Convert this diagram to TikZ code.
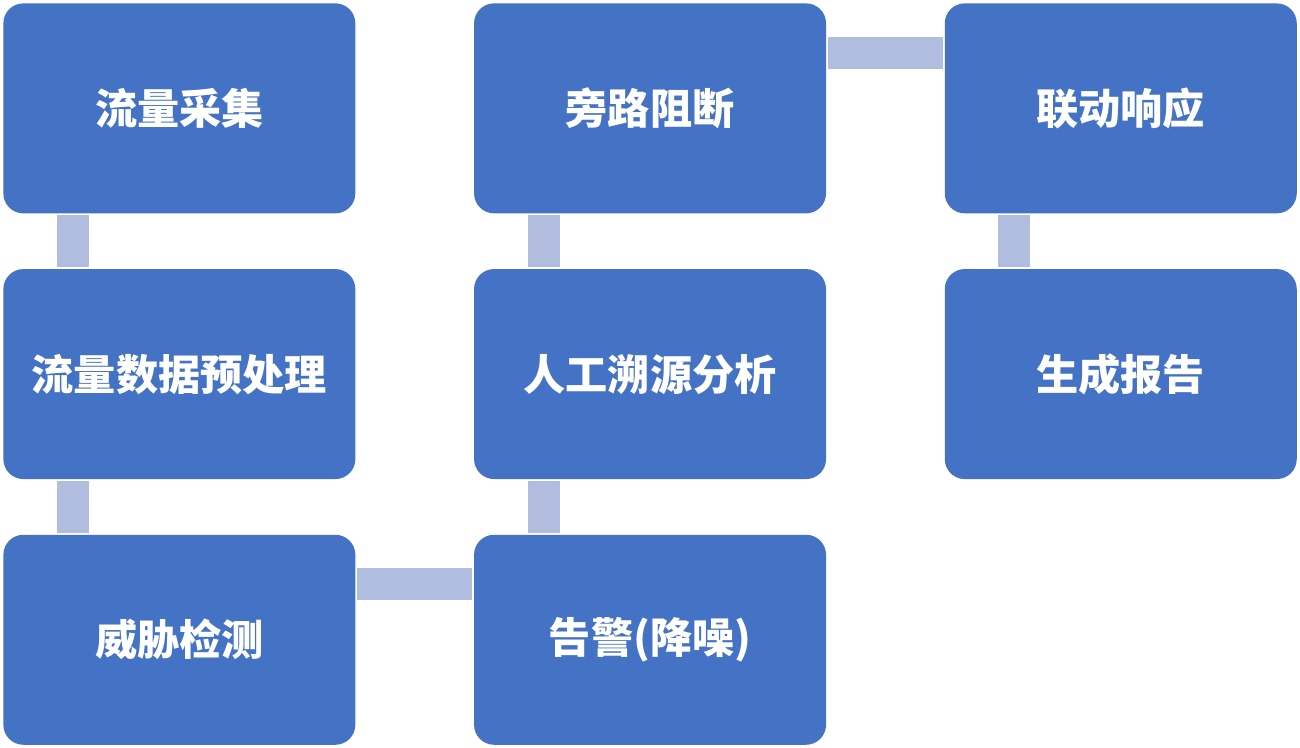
\documentclass[tikz,border=0pt]{standalone}
\usepackage{fontspec}
\newfontfamily\cjk{Noto Sans CJK SC}
\usepackage{tikz}
\usetikzlibrary{positioning}

\definecolor{boxblue}{HTML}{4472C4}
\definecolor{linkblue}{HTML}{B0BDDE}

\tikzset{
  stepbox/.style={fill=boxblue, draw=none, rounded corners=0.4cm, minimum width=7.04cm, minimum height=4.2cm, inner sep=0pt, text=white, font=\cjk\bfseries\fontsize{24pt}{28pt}\selectfont},
  link/.style={draw=linkblue, line width=0.64cm, shorten <=0.03cm, shorten >=0.03cm}
}

\begin{document}
\begin{tikzpicture}
\useasboundingbox (0,0) rectangle (26,-14.94);

% first column
\node[stepbox, anchor=north west] (caiji) at (0.06,-0.06) {流量采集};
\node[stepbox, below=1.1cm of caiji] (yuchuli) {流量数据预处理};
\node[stepbox, below=1.1cm of yuchuli] (jiance) {威胁检测};

% second column
\node[stepbox, right=2.36cm of jiance] (gaojing) {告警(降噪)};
\node[stepbox, above=1.1cm of gaojing] (suyuan) {人工溯源分析};
\node[stepbox, above=1.1cm of suyuan] (zuduan) {旁路阻断};

% third column
\node[stepbox, right=2.36cm of zuduan] (xiangying) {联动响应};
\node[stepbox, below=1.1cm of xiangying] (baogao) {生成报告};

% links
\draw[link] ([xshift=1.4cm]caiji.south west) -- ([xshift=1.4cm]yuchuli.north west);
\draw[link] ([xshift=1.4cm]yuchuli.south west) -- ([xshift=1.4cm]jiance.north west);
\draw[link] ([yshift=-1cm]jiance.north east) -- ([yshift=-1cm]gaojing.north west);
\draw[link] ([xshift=1.4cm]gaojing.north west) -- ([xshift=1.4cm]suyuan.south west);
\draw[link] ([xshift=1.4cm]suyuan.north west) -- ([xshift=1.4cm]zuduan.south west);
\draw[link] ([yshift=-1cm]zuduan.north east) -- ([yshift=-1cm]xiangying.north west);
\draw[link] ([xshift=1.4cm]xiangying.south west) -- ([xshift=1.4cm]baogao.north west);
\end{tikzpicture}
\end{document}
